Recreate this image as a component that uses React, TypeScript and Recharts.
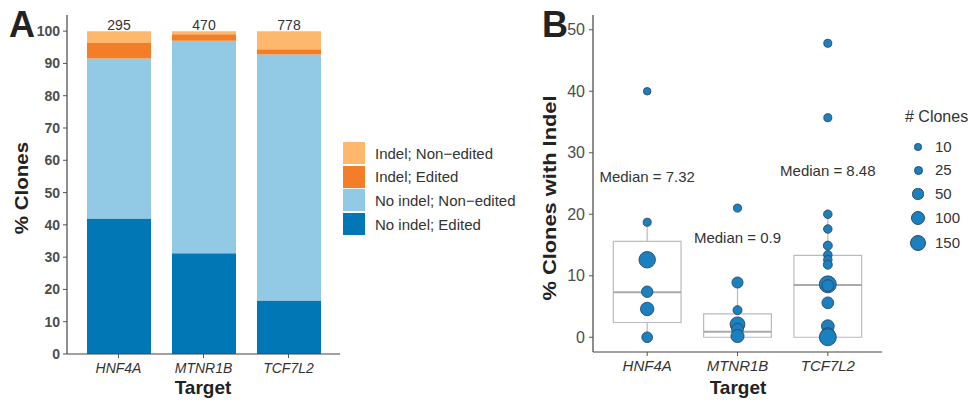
import React from "react"
import {
  BarChart,
  Bar,
  XAxis,
  YAxis,
  LabelList,
  ComposedChart,
  Scatter,
  ReferenceArea,
  ReferenceLine,
} from "recharts"

const FONT = "'Liberation Sans', Arial, Helvetica, sans-serif"

// panel A
const targets = ["HNF4A", "MTNR1B", "TCF7L2"]
const noIndelEdited = [42, 31.2, 16.6]
const noIndelNonEdited = [49.5, 65.8, 76.2]
const indelEdited = [4.8, 2.0, 1.6]
const indelNonEdited = [3.7, 1.0, 5.6]
const totals = [295, 470, 778]
const pctTicks = [0, 10, 20, 30, 40, 50, 60, 70, 80, 90, 100]

// panel B
const hnf4aPct = [40, 18.7, 12.6, 7.4, 4.6, 0]
const hnf4aClones = [10, 15, 140, 55, 85, 45]
const mtnr1bPct = [21, 8.9, 4.4, 2.1, 1.3, 0.2]
const mtnr1bClones = [15, 50, 25, 110, 60, 80]
const tcf7l2Pct = [47.8, 35.7, 20, 17.6, 14.9, 13.4, 12.6, 11.8, 8.6, 8.4, 5.6, 1.8, 0.4, 0]
const tcf7l2Clones = [15, 15, 20, 20, 25, 20, 20, 25, 150, 60, 60, 75, 100, 150]

const boxMin = [0, 0, 0]
const boxQ1 = [2.4, 0, 0]
const boxMedian = [7.32, 0.9, 8.48]
const boxQ3 = [15.6, 3.8, 13.3]
const boxMax = [18.7, 8.9, 20]
const medianLabels = ["Median = 7.32", "Median = 0.9", "Median = 8.48"]
const medianLabelY = [25.9, 15.9, 26.9]
const indelTicks = [0, 10, 20, 30, 40, 50]
const cloneLegend = [10, 25, 50, 100, 150]

const COLORS = {
  indelNon: "#fdb86e",
  indelEd: "#f47e28",
  noIndelNon: "#92c9e4",
  noIndelEd: "#0277b5",
}

const barData = targets.map((t, i) => ({
  name: t,
  noIndelEdited: noIndelEdited[i],
  noIndelNonEdited: noIndelNonEdited[i],
  indelEdited: indelEdited[i],
  indelNonEdited: indelNonEdited[i],
  total: totals[i],
}))

const pointData = [
  ...hnf4aPct.map((v, i) => ({ x: 1, y: v, clones: hnf4aClones[i] })),
  ...mtnr1bPct.map((v, i) => ({ x: 2, y: v, clones: mtnr1bClones[i] })),
  ...tcf7l2Pct.map((v, i) => ({ x: 3, y: v, clones: tcf7l2Clones[i] })),
]

const labelData = medianLabels.map((t, i) => ({ x: i + 1, y: medianLabelY[i], text: t }))

function cloneRadius(n: number) {
  return Math.sqrt(9.9 + 0.414 * n)
}

const legendItems = [
  { label: "Indel; Non\u2212edited", color: COLORS.indelNon },
  { label: "Indel; Edited", color: COLORS.indelEd },
  { label: "No indel; Non\u2212edited", color: COLORS.noIndelNon },
  { label: "No indel; Edited", color: COLORS.noIndelEd },
]

const axisLine = { stroke: "#444", strokeWidth: 1.2 }
const tickLine = { stroke: "#555" }

function PointShape(props: any) {
  const r = cloneRadius(props.payload.clones)
  return <circle cx={props.cx} cy={props.cy} r={r} fill="#1b80bf" stroke="#2a4a68" strokeWidth={0.9} />
}

function TextShape(props: any) {
  return (
    <text x={props.cx} y={props.cy} textAnchor="middle" dominantBaseline="middle" fontSize={15} fill="#333" fontFamily={FONT}>
      {props.payload.text}
    </text>
  )
}

const half = 0.375

export default function App() {
  return (
    <div style={{ position: "absolute", left: 0, top: 0, width: 971, height: 400, background: "#fff", fontFamily: FONT }}>
      <div style={{ position: "absolute", left: 0, top: 0 }}>
        <BarChart width={345} height={400} data={barData} margin={{ top: 15, right: 5, bottom: 16, left: 0 }} barSize={64}>
          <XAxis
            dataKey="name"
            height={30}
            padding={{ left: 9, right: 9 }}
            axisLine={axisLine}
            tickLine={tickLine}
            tickSize={4}
            tickMargin={5}
            tick={{ fontSize: 14, fill: "#333", fontStyle: "italic", fontFamily: FONT }}
          />
          <YAxis
            width={67}
            domain={[0, 105]}
            ticks={pctTicks}
            axisLine={axisLine}
            tickLine={tickLine}
            tickSize={4}
            tickMargin={3}
            tick={{ fontSize: 14, fill: "#4d4d4d", fontWeight: "bold", fontFamily: FONT }}
          />
          <Bar dataKey="noIndelEdited" stackId="a" fill={COLORS.noIndelEd} isAnimationActive={false} />
          <Bar dataKey="noIndelNonEdited" stackId="a" fill={COLORS.noIndelNon} isAnimationActive={false} />
          <Bar dataKey="indelEdited" stackId="a" fill={COLORS.indelEd} isAnimationActive={false} />
          <Bar dataKey="indelNonEdited" stackId="a" fill={COLORS.indelNon} isAnimationActive={false}>
            <LabelList dataKey="total" position="top" offset={1} style={{ fontSize: 14, fill: "#333", fontFamily: FONT }} />
          </Bar>
        </BarChart>
      </div>

      {legendItems.map((it, i) => (
        <div key={it.label} style={{ position: "absolute", left: 343, top: 142 + i * 23.7, display: "flex", alignItems: "center" }}>
          <div style={{ width: 22, height: 22, background: it.color }} />
          <span style={{ marginLeft: 10, fontSize: 15, color: "#333", whiteSpace: "nowrap" }}>{it.label}</span>
        </div>
      ))}

      <div style={{ position: "absolute", left: 530, top: 0 }}>
        <ComposedChart width={360} height={400} margin={{ top: 15, right: 8, bottom: 18, left: 0 }}>
          <XAxis
            type="number"
            dataKey="x"
            domain={[0.4, 3.6]}
            ticks={[1, 2, 3]}
            tickFormatter={(v: number) => targets[v - 1]}
            height={30}
            axisLine={axisLine}
            tickLine={tickLine}
            tickSize={4}
            tickMargin={4}
            tick={{ fontSize: 15, fill: "#333", fontStyle: "italic", fontFamily: FONT }}
          />
          <YAxis
            type="number"
            dataKey="y"
            width={63}
            domain={[-2.4, 52.4]}
            ticks={indelTicks}
            axisLine={axisLine}
            tickLine={tickLine}
            tickSize={4}
            tickMargin={4}
            tick={{ fontSize: 16, fill: "#4d4d4d", fontFamily: FONT }}
          />
          {targets.map((t, i) => (
            <ReferenceArea
              key={"box" + t}
              x1={i + 1 - half}
              x2={i + 1 + half}
              y1={boxQ1[i]}
              y2={boxQ3[i]}
              fill="none"
              fillOpacity={0}
              stroke="#bbb"
              strokeWidth={1.2}
            />
          ))}
          {targets.map((t, i) => (
            <ReferenceLine
              key={"med" + t}
              segment={[{ x: i + 1 - half, y: boxMedian[i] }, { x: i + 1 + half, y: boxMedian[i] }]}
              stroke="#aaa"
              strokeWidth={2}
            />
          ))}
          {targets.map((t, i) => (
            <ReferenceLine
              key={"wup" + t}
              segment={[{ x: i + 1, y: boxQ3[i] }, { x: i + 1, y: boxMax[i] }]}
              stroke="#bbb"
              strokeWidth={1.2}
            />
          ))}
          {targets.map((t, i) =>
            boxQ1[i] > boxMin[i] ? (
              <ReferenceLine
                key={"wlo" + t}
                segment={[{ x: i + 1, y: boxMin[i] }, { x: i + 1, y: boxQ1[i] }]}
                stroke="#bbb"
                strokeWidth={1.2}
              />
            ) : null
          )}
          <Scatter data={pointData} shape={PointShape} isAnimationActive={false} />
          <Scatter data={labelData} shape={TextShape} isAnimationActive={false} />
        </ComposedChart>
      </div>

      <div style={{ position: "absolute", left: 905, top: 108, fontSize: 16, color: "#333", whiteSpace: "nowrap" }}># Clones</div>
      {cloneLegend.map((n, i) => {
        const r = cloneRadius(n)
        const cy = [147, 170, 194, 218, 243][i]
        return (
          <div key={n}>
            <div
              style={{
                position: "absolute",
                left: 918 - r,
                top: cy - r,
                width: 2 * r,
                height: 2 * r,
                borderRadius: "50%",
                background: "#1b80bf",
                boxSizing: "border-box",
                border: "0.9px solid #2a4a68",
              }}
            />
            <div style={{ position: "absolute", left: 935, top: cy - 9, fontSize: 15, color: "#333" }}>{n}</div>
          </div>
        )
      })}

      <div style={{ position: "absolute", left: 9, top: 4, fontSize: 36, fontWeight: "bold", color: "#222" }}>A</div>
      <div style={{ position: "absolute", left: 542, top: 4, fontSize: 36, fontWeight: "bold", color: "#222" }}>B</div>

      <div
        style={{
          position: "absolute",
          left: 22,
          top: 188,
          transform: "translate(-50%, -50%) rotate(-90deg) scaleX(1.08)",
          fontSize: 19,
          fontWeight: "bold",
          color: "#222",
          whiteSpace: "nowrap",
        }}
      >
        % Clones
      </div>
      <div
        style={{
          position: "absolute",
          left: 550,
          top: 198,
          transform: "translate(-50%, -50%) rotate(-90deg) scaleX(1.15)",
          fontSize: 19,
          fontWeight: "bold",
          color: "#222",
          whiteSpace: "nowrap",
        }}
      >
        % Clones with Indel
      </div>
      <div style={{ position: "absolute", left: 203, top: 388, transform: "translate(-50%, -50%)", fontSize: 19, fontWeight: "bold", color: "#222" }}>
        Target
      </div>
      <div style={{ position: "absolute", left: 738, top: 388, transform: "translate(-50%, -50%)", fontSize: 19, fontWeight: "bold", color: "#222" }}>
        Target
      </div>
    </div>
  )
}
